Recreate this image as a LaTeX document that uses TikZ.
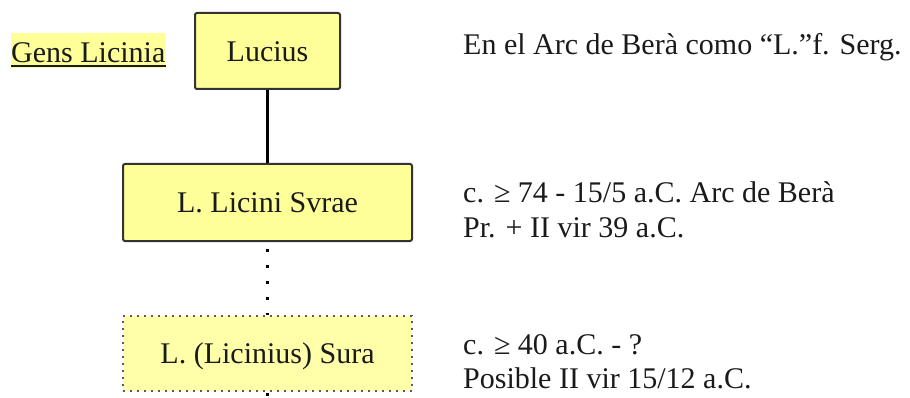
\documentclass[tikz,border=0pt]{standalone}
\usepackage{fontspec}
\setmainfont{Liberation Serif}
\definecolor{boxfill}{HTML}{FFFF99}
\definecolor{surafill}{HTML}{FFFFAA}
\definecolor{boxline}{HTML}{333333}
\definecolor{txt}{HTML}{1A1A1A}
\begin{document}
\begin{tikzpicture}[x=1pt,y=-1pt,
  every node/.style={font=\fontsize{30}{34.5}\selectfont, text=txt},
  famebox/.style={draw=boxline, line width=2pt, fill=boxfill, rounded corners=2pt,
    inner sep=0pt, text height=20.5pt, text depth=0pt, anchor=center},
  surabox/.style={draw=boxline!80, line width=1.8pt, fill=surafill,
    dash pattern=on 2pt off 5pt, inner sep=0pt, text height=20.5pt, text depth=0pt, anchor=center},
  descr/.style={anchor=base west, inner sep=0pt},
  solidlink/.style={line width=3pt, black},
  dotlink/.style={line width=3pt, black, dash pattern=on 3pt off 13pt}
]
\useasboundingbox (0,0) rectangle (910,398);

% title
\node[anchor=base west, inner sep=0pt, fill=boxfill, text height=30pt, text depth=5pt] (gens) at (11,63) {Gens Licinia};
\draw[line width=2pt, txt] ([yshift=-3pt]gens.base west) -- ([yshift=-3pt]gens.base east);

% boxes
\node[famebox, minimum width=145pt, minimum height=76pt] (lucius) at (267.5,51) {Lucius};
\node[famebox, minimum width=289pt, minimum height=77pt] (svrae) at (267.5,202.5) {L. Licini Svrae};
\node[surabox, minimum width=289pt, minimum height=75pt] (sura) at (267.5,353.5) {L. (Licinius) Sura};
\coordinate (bottom) at (267.5,398);

% connectors
\draw[solidlink] (lucius.south) -- (svrae.north);
\draw[dotlink, dash phase=9pt] (svrae.south) -- (sura.north);
\draw[dotlink, dash phase=15pt] (sura.south) -- (bottom);

% descriptions
\node[descr] (d1) at (463,55) {En el Arc de Berà como “L.”f. Serg.};
\node[descr] (d2a) at (463,203) {c. ≥ 74 - 15/5 a.C. Arc de Berà};
\node[descr] (d2b) at (463,237) {Pr. + II vir 39 a.C.};
\node[descr] (d3a) at (463,354) {c. ≥ 40 a.C. - ?};
\node[descr] (d3b) at (463,388) {Posible II vir 15/12 a.C.};
\end{tikzpicture}
\end{document}
